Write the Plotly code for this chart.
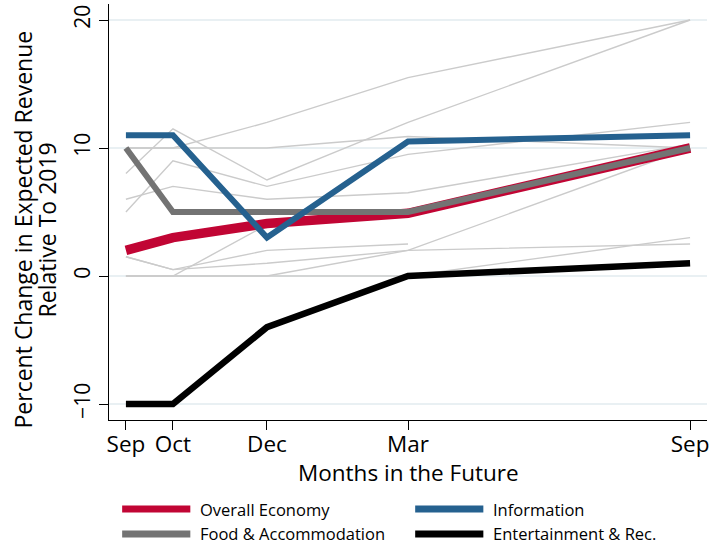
import plotly.graph_objects as go

# Months ahead of September, and their labels
months = [0, 1, 3, 6, 12]
month_labels = ["Sep", "Oct", "Dec", "Mar", "Sep"]

# Highlighted sectors (percent change in expected revenue vs 2019)
overall_economy = [2.0, 3.0, 4.1, 4.9, 10.0]
food_accommodation = [10.0, 5.0, 5.0, 5.0, 10.0]
information = [11.0, 11.0, 3.0, 10.5, 11.0]
entertainment_rec = [-10.0, -10.0, -4.0, 0.0, 1.0]

# Remaining sectors, drawn as thin background lines
other_sectors = [
    [8.0, 11.5, 7.5, 12.0, 20.0],
    [5.0, 9.0, 7.0, 9.5, 12.0],
    [6.0, 7.0, 6.0, 6.5, 10.3],
    [10.0, 10.0, 10.0, 10.9, 10.0],
    [10.0, 10.0, 12.0, 15.5, 20.0],
    [0.0, 0.0, 4.0, 5.0, 10.0],
    [0.0, 0.0, 0.0, 2.0, 10.0],
    [0.0, 0.0, 0.0, 0.0, 3.0],
    [1.5, 0.5, 2.0, 2.5, None],
    [1.5, 0.5, 1.0, 2.0, 2.5],
]

y_ticks = [-10, 0, 10, 20]
y_title_lines = ["Percent Change in Expected Revenue", "Relative To 2019"]
x_title = "Months in the Future"

legend_names = ["Overall Economy", "Information", "Food & Accommodation", "Entertainment & Rec."]
legend_colors = ["#c10534", "#25618f", "#737373", "#000000"]

FONT = "Open Sans"

fig = go.Figure()

for vals in other_sectors:
    fig.add_trace(go.Scatter(
        x=months, y=vals, mode="lines",
        line=dict(color="#cbcbcb", width=1.4),
        connectgaps=False, showlegend=False, hoverinfo="skip",
    ))

highlighted = [
    (overall_economy, legend_colors[0], 9.5),
    (food_accommodation, legend_colors[2], 6),
    (information, legend_colors[1], 6),
    (entertainment_rec, legend_colors[3], 6.5),
]
for vals, color, width in highlighted:
    fig.add_trace(go.Scatter(
        x=months, y=vals, mode="lines",
        line=dict(color=color, width=width),
        showlegend=False,
    ))

# Legend: long swatches in two columns below the plot
legend_slots = [(0.022, -0.214), (0.512, -0.214), (0.022, -0.274), (0.512, -0.274)]
for name, color, (lx, ly) in zip(legend_names, legend_colors, legend_slots):
    fig.add_shape(type="line", xref="paper", yref="paper",
                  x0=lx, x1=lx + 0.114, y0=ly, y1=ly,
                  line=dict(color=color, width=7))
    fig.add_annotation(xref="paper", yref="paper", x=lx + 0.126, y=ly,
                       text=name, showarrow=False, xanchor="left", yanchor="middle",
                       font=dict(family=FONT, size=16.5, color="#000000"))

# Two-line vertical axis title with tight line spacing
for text, px in zip(y_title_lines, [-0.1445, -0.1045]):
    fig.add_annotation(xref="paper", yref="paper", x=px, y=0.457,
                       text=text, textangle=-90, showarrow=False,
                       xanchor="center", yanchor="middle",
                       font=dict(family=FONT, size=23, color="#000000"))

# Horizontal axis title
fig.add_annotation(xref="paper", yref="paper", x=0.5, y=-0.126,
                   text=x_title, showarrow=False,
                   xanchor="center", yanchor="middle",
                   font=dict(family=FONT, size=22.5, color="#000000"))

fig.update_layout(
    width=719, height=544,
    margin=dict(l=109, r=12, t=4, b=124),
    paper_bgcolor="white", plot_bgcolor="white",
    font=dict(family=FONT, color="#000000"),
    showlegend=False,
)

fig.update_xaxes(
    range=[-0.36, 12.36],
    tickvals=months, ticktext=month_labels,
    ticks="outside", ticklen=9, tickwidth=1.3, tickcolor="#000000",
    showline=True, linecolor="#000000", linewidth=1.3,
    showgrid=False, zeroline=False,
    tickfont=dict(family=FONT, size=22.5),
    ticklabelstandoff=-5,
)
fig.update_yaxes(
    range=[-11.25, 21.25],
    tickvals=y_ticks,
    ticks="outside", ticklen=9, tickwidth=1.3, tickcolor="#000000",
    showline=True, linecolor="#000000", linewidth=1.3,
    showgrid=True, gridcolor="#e9f0f3", gridwidth=2,
    zeroline=False,
    tickangle=-90,
    tickfont=dict(family=FONT, size=21),
)

fig.write_html("out.html")
